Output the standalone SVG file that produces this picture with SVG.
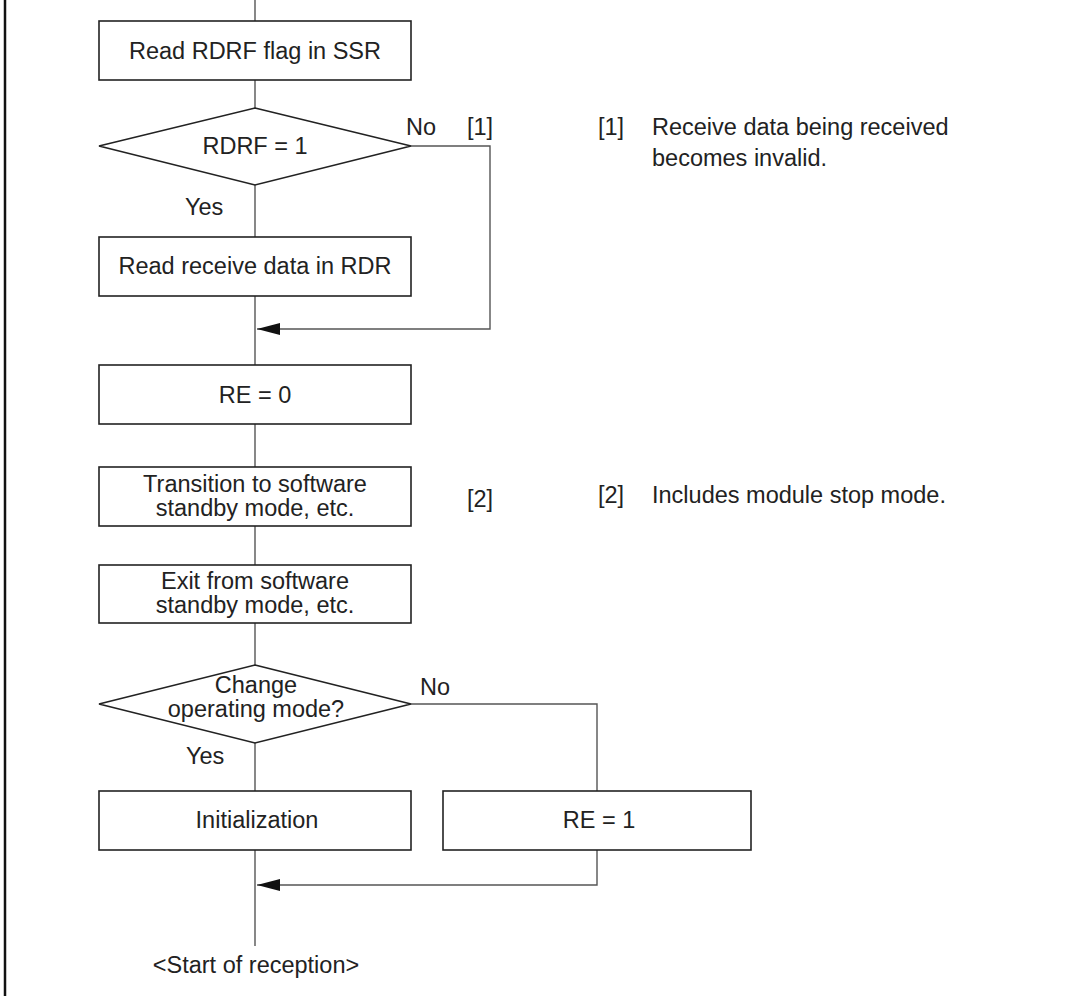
<svg xmlns="http://www.w3.org/2000/svg" width="1067" height="996" viewBox="0 0 1067 996">
<style>
  .box { fill: #fff; stroke: #222; stroke-width: 1.6; }
  .con { fill: none; stroke: #555; stroke-width: 1.4; }
  text { font-family: "Liberation Sans", Arial, sans-serif; font-size: 23.5px; fill: #222; }
  .c { text-anchor: middle; }
</style>
<defs>
  <marker id="arr" markerUnits="userSpaceOnUse" markerWidth="23" markerHeight="12" viewBox="0 0 23 12" refX="23" refY="6" orient="auto">
    <path d="M0,0 L23,6 L0,12 z" fill="#111"/>
  </marker>
</defs>
<rect width="1067" height="996" fill="#fff"/>
<line x1="5" y1="0" x2="5" y2="996" stroke="#111" stroke-width="2.5"/>

<g id="connectors">
  <path class="con" d="M255,0 V21"/>
  <path class="con" d="M255,80 V108"/>
  <path class="con" d="M255,185 V237"/>
  <path class="con" d="M411,146 H490 V329 H257" marker-end="url(#arr)"/>
  <path class="con" d="M255,296 V365"/>
  <path class="con" d="M255,424 V467"/>
  <path class="con" d="M255,526 V565"/>
  <path class="con" d="M255,623 V665"/>
  <path class="con" d="M255,743 V791"/>
  <path class="con" d="M411,704 H597 V791"/>
  <path class="con" d="M597,850 V885 H257" marker-end="url(#arr)"/>
  <path class="con" d="M255,850 V946"/>
</g>

<g id="n-read-rdrf">
  <rect class="box" x="99" y="21" width="312" height="59"/>
  <text class="c" x="255" y="58.5">Read RDRF flag in SSR</text>
</g>

<g id="n-rdrf-decision">
  <polygon class="box" points="255,108 411,146 255,185 99,146"/>
  <text class="c" x="255" y="154">RDRF = 1</text>
  <text x="406" y="135">No</text>
  <text x="467" y="135">[1]</text>
  <text x="185" y="215">Yes</text>
</g>

<g id="n-read-rdr">
  <rect class="box" x="99" y="237" width="312" height="59"/>
  <text class="c" x="255" y="274">Read receive data in RDR</text>
</g>

<g id="n-re0">
  <rect class="box" x="99" y="365" width="312" height="59"/>
  <text class="c" x="255" y="403">RE = 0</text>
</g>

<g id="n-transition">
  <rect class="box" x="99" y="467" width="312" height="59"/>
  <text class="c" x="255" y="492">Transition to software</text>
  <text class="c" x="255" y="516">standby mode, etc.</text>
  <text x="467" y="507">[2]</text>
</g>

<g id="n-exit">
  <rect class="box" x="99" y="565" width="312" height="58"/>
  <text class="c" x="255" y="589">Exit from software</text>
  <text class="c" x="255" y="613">standby mode, etc.</text>
</g>

<g id="n-change-mode">
  <polygon class="box" points="255,665 411,704 255,743 99,704"/>
  <text class="c" x="256" y="693">Change</text>
  <text class="c" x="256" y="717">operating mode?</text>
  <text x="420" y="695">No</text>
  <text x="186" y="764">Yes</text>
</g>

<g id="n-init">
  <rect class="box" x="99" y="791" width="312" height="59"/>
  <text class="c" x="257" y="828">Initialization</text>
</g>

<g id="n-re1">
  <rect class="box" x="443" y="791" width="308" height="59"/>
  <text class="c" x="599" y="828">RE = 1</text>
</g>

<g id="n-start">
  <text class="c" x="256" y="973">&lt;Start of reception&gt;</text>
</g>

<g id="notes">
  <text x="598" y="135">[1]</text>
  <text x="652" y="135">Receive data being received</text>
  <text x="652" y="166">becomes invalid.</text>
  <text x="598" y="503">[2]</text>
  <text x="652" y="503">Includes module stop mode.</text>
</g>
</svg>
